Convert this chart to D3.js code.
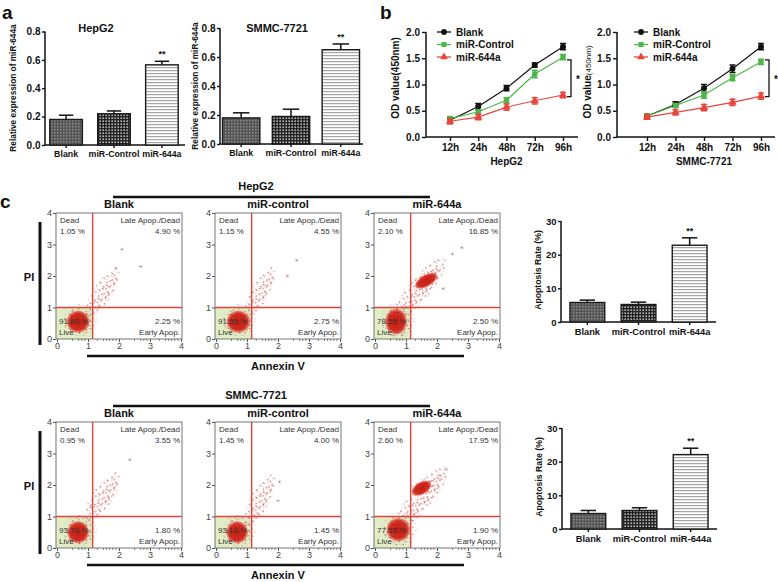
<!DOCTYPE html>
<html>
<head>
<meta charset="utf-8">
<script src="https://cdn.jsdelivr.net/npm/d3@7"></script>
<style>
  body { margin: 0; background: #fff; }
  text { font-family: "Liberation Sans", Arial, sans-serif; }
</style>
</head>
<body>
<svg id="fig" width="778" height="582"></svg>
<script>
// ---- data ----
const groups = ["Blank", "miR-Control", "miR-644a"];
const exprHepG2 = [0.18, 0.22, 0.565];
const exprHepG2Err = [0.03, 0.02, 0.025];
const exprSMMC = [0.18, 0.19, 0.65];
const exprSMMCErr = [0.035, 0.05, 0.04];
const exprTicks = [0, 0.2, 0.4, 0.6, 0.8];

const timePoints = ["12h", "24h", "48h", "72h", "96h"];
const odTicks = [0, 0.5, 1.0, 1.5, 2.0];
const odHepG2Blank = [0.32, 0.58, 0.93, 1.37, 1.72];
const odHepG2Control = [0.35, 0.48, 0.70, 1.20, 1.52];
const odHepG2Mir = [0.30, 0.38, 0.57, 0.69, 0.80];
const odHepG2BlankErr = [0.04, 0.06, 0.05, 0.04, 0.06];
const odHepG2ControlErr = [0.04, 0.04, 0.05, 0.07, 0.05];
const odHepG2MirErr = [0.05, 0.05, 0.06, 0.06, 0.05];
const odSMMCBlank = [0.40, 0.62, 0.93, 1.30, 1.72];
const odSMMCControl = [0.40, 0.60, 0.80, 1.13, 1.43];
const odSMMCMir = [0.38, 0.47, 0.56, 0.66, 0.78];
const odSMMCBlankErr = [0.04, 0.05, 0.07, 0.07, 0.06];
const odSMMCControlErr = [0.04, 0.04, 0.06, 0.06, 0.05];
const odSMMCMirErr = [0.04, 0.05, 0.06, 0.06, 0.06];
const sigBracket = [0.77, 1.47];

const flowTitles = ["Blank", "miR-control", "miR-644a"];
const flowTicks = [0, 1, 2, 3, 4];
const flowMinor = [0.5, 0.7, 0.8, 0.9, 1.3, 1.5, 1.6, 1.7, 1.8, 1.9, 2.5, 2.7, 2.8, 2.9, 3.3, 3.5, 3.6, 3.7, 3.8, 3.9];
const gateX = 1.15, gateY = 1.0;
const hepDead = ["1.05 %", "1.15 %", "2.10 %"];
const hepLate = ["4.90 %", "4.55 %", "16.85 %"];
const hepEarly = ["2.25 %", "2.75 %", "2.50 %"];
const hepLive = ["91.80 %", "91.55 %", "78.55 %"];
const smmcDead = ["0.95 %", "1.45 %", "2.60 %"];
const smmcLate = ["3.55 %", "4.00 %", "17.95 %"];
const smmcEarly = ["1.80 %", "1.45 %", "1.90 %"];
const smmcLive = ["93.70 %", "93.10 %", "77.55 %"];
// cell populations: [cx, cy, rx, ry, angle, kind]
const hepPops = [
  [[0.75, 0.6, 0.55, 0.5, 0, "haze"], [1.45, 1.45, 0.95, 0.3, 58, "sparse"], [0.68, 0.55, 0.32, 0.3, 0, "dense"]],
  [[0.75, 0.6, 0.55, 0.5, 0, "haze"], [1.4, 1.45, 0.95, 0.28, 62, "sparse"], [0.72, 0.55, 0.33, 0.3, 0, "dense"]],
  [[0.75, 0.6, 0.55, 0.55, 0, "haze"], [1.45, 1.6, 1.25, 0.35, 50, "sparse"], [0.68, 0.55, 0.3, 0.36, 0, "dense"], [1.65, 1.85, 0.35, 0.14, 30, "dense"]]
];
const smmcPops = [
  [[0.75, 0.55, 0.55, 0.5, 0, "haze"], [1.45, 1.6, 0.95, 0.32, 58, "sparse"], [0.68, 0.5, 0.3, 0.3, 0, "dense"]],
  [[0.75, 0.55, 0.55, 0.5, 0, "haze"], [1.4, 1.5, 0.95, 0.3, 63, "sparse"], [0.68, 0.5, 0.3, 0.3, 0, "dense"]],
  [[0.8, 0.6, 0.55, 0.55, 0, "haze"], [1.5, 1.6, 1.25, 0.35, 50, "sparse"], [0.75, 0.58, 0.33, 0.32, 0, "dense"], [1.5, 1.9, 0.3, 0.15, 30, "dense"]]
];
const hepOutliers = [[[2.1, 2.85], [2.7, 2.3], [1.9, 2.25]], [[2.6, 2.5], [2.3, 2.0]], [[2.8, 2.9], [2.5, 2.7], [2.2, 1.6]]];
const smmcOutliers = [[[2.35, 2.8], [1.1, 1.35]], [[2.05, 2.1], [2.0, 1.5]], [[2.3, 2.5], [2.1, 2.3]]];

const apoHepG2 = [5.8, 5.2, 22.8];
const apoHepG2Err = [0.7, 0.7, 2.2];
const apoSMMC = [4.6, 5.5, 22.1];
const apoSMMCErr = [0.9, 0.8, 1.9];
const apoTicks = [0, 10, 20, 30];

// ---- drawing ----
const svg = d3.select("#fig");
svg.append("rect").attr("width", 778).attr("height", 582).attr("fill", "#fff");
const defs = svg.append("defs");

function pattern(id, w, h) {
  return defs.append("pattern").attr("id", id).attr("width", w).attr("height", h)
    .attr("patternUnits", "userSpaceOnUse");
}
const pb = pattern("pat-blank", 3, 3);
pb.append("rect").attr("width", 3).attr("height", 3).attr("fill", "#555");
pb.append("rect").attr("width", 1.5).attr("height", 1.5).attr("fill", "#8c8c8c");
const pc = pattern("pat-control", 3, 3);
pc.append("rect").attr("width", 3).attr("height", 3).attr("fill", "#222");
pc.append("rect").attr("x", 0.5).attr("y", 0.5).attr("width", 1.3).attr("height", 1.3).attr("fill", "#fff");
const pm = pattern("pat-mir", 4, 3);
pm.append("rect").attr("width", 4).attr("height", 3).attr("fill", "#fff");
pm.append("rect").attr("y", 1).attr("width", 4).attr("height", 1.2).attr("fill", "#a5a5a5");
const barFills = ["url(#pat-blank)", "url(#pat-control)", "url(#pat-mir)"];

// speckle patterns for the flow dot plots (fixed positions, tiled)
const speckle = [[1, 2], [6, 1], [11, 3.5], [3.5, 6], [8.5, 8], [14, 9], [1.5, 11], [6.5, 13], [12, 13.5], [15, 5]];
const ps = pattern("dots-sparse", 16, 15);
speckle.forEach(d => ps.append("circle").attr("cx", d[0]).attr("cy", d[1]).attr("r", 0.65).attr("fill", "#c62a22"));
const pg2 = pattern("dots-gray", 16, 15);
speckle.forEach(d => pg2.append("rect").attr("x", 15 - d[0]).attr("y", d[1]).attr("width", 1.4).attr("height", 1.2).attr("fill", "#d4d4d4"));
const ph = pattern("dots-haze", 7, 7);
[[1, 1], [4, 4], [5.5, 0.5], [2, 5.5]].forEach(d => ph.append("rect").attr("x", d[0]).attr("y", d[1]).attr("width", 1.2).attr("height", 1.2).attr("fill", "#cfcfcf"));
[[3.5, 1.5], [6, 5.5]].forEach(d => ph.append("circle").attr("cx", d[0]).attr("cy", d[1]).attr("r", 0.6).attr("fill", "#c62a22"));
const pd = pattern("dots-dark", 4, 4);
[[1, 1], [3, 2.5], [1.8, 3.5]].forEach(d => pd.append("circle").attr("cx", d[0]).attr("cy", d[1]).attr("r", 0.55).attr("fill", "#8c120b"));
const rg = defs.append("radialGradient").attr("id", "blob");
rg.append("stop").attr("offset", "0%").attr("stop-color", "#cc1f14");
rg.append("stop").attr("offset", "75%").attr("stop-color", "#dc3226");
rg.append("stop").attr("offset", "100%").attr("stop-color", "#e8665c").attr("stop-opacity", 0.6);

function styleAxis(sel, size) {
  sel.select(".domain").remove();
  sel.selectAll("line").attr("stroke", "#111").attr("stroke-width", 1.4);
  sel.selectAll("text").attr("font-size", size).attr("font-weight", "bold").attr("fill", "#111");
}

function label(x, y, txt, size, opts = {}) {
  return svg.append("text").attr("x", x).attr("y", y).text(txt)
    .attr("font-size", size).attr("font-weight", opts.weight || "bold")
    .attr("text-anchor", opts.anchor || "middle").attr("fill", opts.fill || "#111")
    .attr("transform", opts.rotate ? `rotate(-90,${x},${y})` : null);
}

function barPanel(o) {
  const x = d3.scaleBand().domain(groups).range(o.xr).paddingInner(o.pi).paddingOuter(o.po);
  const y = d3.scaleLinear().domain([0, o.max]).range(o.yr);
  const g = svg.append("g");
  const ya = g.append("g").attr("transform", `translate(${o.xr[0]},0)`)
    .call(d3.axisLeft(y).tickValues(o.ticks).tickFormat(o.fmt).tickSize(3).tickPadding(1.5));
  styleAxis(ya, o.tickFont);
  const xa = g.append("g").attr("transform", `translate(0,${o.yr[0]})`)
    .call(d3.axisBottom(x).tickSize(3).tickPadding(3));
  styleAxis(xa, o.catFont);
  g.append("line").attr("x1", o.xr[0]).attr("x2", o.xEnd).attr("y1", o.yr[0]).attr("y2", o.yr[0])
    .attr("stroke", "#111").attr("stroke-width", 1.5);
  g.append("line").attr("x1", o.xr[0]).attr("x2", o.xr[0]).attr("y1", o.yr[0]).attr("y2", o.yr[1])
    .attr("stroke", "#111").attr("stroke-width", 1.5);
  const bw = x.bandwidth();
  groups.forEach((grp, i) => {
    const cx = x(grp) + bw / 2;
    g.append("line").attr("x1", cx).attr("x2", cx).attr("y1", y(o.vals[i])).attr("y2", y(o.vals[i] + o.errs[i]))
      .attr("stroke", "#111").attr("stroke-width", 1.5);
    g.append("line").attr("x1", cx - bw * 0.22).attr("x2", cx + bw * 0.22)
      .attr("y1", y(o.vals[i] + o.errs[i])).attr("y2", y(o.vals[i] + o.errs[i]))
      .attr("stroke", "#111").attr("stroke-width", 1.5);
    g.append("rect").attr("x", x(grp)).attr("y", y(o.vals[i])).attr("width", bw)
      .attr("height", y(0) - y(o.vals[i])).attr("fill", barFills[i])
      .attr("stroke", "#1a1a1a").attr("stroke-width", 1.4);
  });
  const last = groups[2];
  label(x(last) + bw / 2, y(o.vals[2] + o.errs[2]) - 4, "**", 9);
  if (o.title) label(o.title[0], o.title[1], o.title[2], 11);
  label(o.ylab[0], o.ylab[1], o.ylab[2], o.ylab[3], { rotate: true });
}

// panel a
label(2, 19, "a", 19, { anchor: "start" });
barPanel({ xr: [45, 183], xEnd: 185, yr: [145, 31.5], max: 0.8, pi: 0.32, po: 0.1,
  ticks: exprTicks, fmt: d3.format(".1f"), tickFont: 10, catFont: 8.8,
  vals: exprHepG2, errs: exprHepG2Err, title: [96, 32, "HepG2"],
  ylab: [16, 88, "Relative expression of miR-644a", 8.3] });
barPanel({ xr: [220, 362], xEnd: 363, yr: [144, 28], max: 0.8, pi: 0.25, po: 0.05,
  ticks: exprTicks, fmt: d3.format(".1f"), tickFont: 10, catFont: 8.8,
  vals: exprSMMC, errs: exprSMMCErr, title: [277, 32, "SMMC-7721"],
  ylab: [198, 86, "Relative expression of miR-644a", 8.3] });

// panel b
const seriesColors = ["#111", "#4cb748", "#e8453c"];
const seriesNames = ["Blank", "miR-Control", "miR-644a"];
const seriesShapes = [d3.symbolCircle, d3.symbolSquare, d3.symbolTriangle];

function linePanel(o) {
  const x = d3.scalePoint().domain(timePoints).range(o.xr);
  const y = d3.scaleLinear().domain([0, 2]).range(o.yr);
  const g = svg.append("g");
  const ya = g.append("g").attr("transform", `translate(${o.axisX},0)`)
    .call(d3.axisLeft(y).tickValues(odTicks).tickFormat(d3.format(".1f")).tickSize(4).tickPadding(2));
  styleAxis(ya, 10);
  const xa = g.append("g").attr("transform", `translate(0,${o.yr[0]})`)
    .call(d3.axisBottom(x).tickSize(4).tickPadding(3));
  styleAxis(xa, 10);
  g.append("line").attr("x1", o.axisX).attr("x2", o.xEnd).attr("y1", o.yr[0]).attr("y2", o.yr[0])
    .attr("stroke", "#111").attr("stroke-width", 1.5);
  g.append("line").attr("x1", o.axisX).attr("x2", o.axisX).attr("y1", o.yr[0]).attr("y2", o.yr[1])
    .attr("stroke", "#111").attr("stroke-width", 1.5);
  const line = d3.line().x((d, i) => x(timePoints[i])).y(d => y(d));
  o.series.forEach((s, k) => {
    g.append("path").attr("d", line(s)).attr("fill", "none").attr("stroke", seriesColors[k]).attr("stroke-width", 1.2);
  });
  o.series.forEach((s, k) => {
    s.forEach((v, i) => {
      const cx = x(timePoints[i]), e = o.errs[k][i];
      g.append("path").attr("d", `M${cx},${y(v - e)}V${y(v + e)}M${cx - 3},${y(v - e)}H${cx + 3}M${cx - 3},${y(v + e)}H${cx + 3}`)
        .attr("stroke", seriesColors[k]).attr("stroke-width", 1.5).attr("fill", "none");
      g.append("path").attr("d", d3.symbol().type(seriesShapes[k]).size(k === 2 ? 30 : 28)())
        .attr("transform", `translate(${cx},${y(v)})`).attr("fill", seriesColors[k]);
    });
  });
  // significance bracket
  const bx = o.bracketX;
  g.append("path").attr("d", `M${bx - 4},${y(sigBracket[1])}H${bx}V${y(sigBracket[0])}H${bx - 4}`)
    .attr("fill", "none").attr("stroke", "#111").attr("stroke-width", 1.3);
  label(bx + 7, (y(sigBracket[0]) + y(sigBracket[1])) / 2 + 5, "*", 10);
  // legend
  seriesNames.forEach((n, k) => {
    const ly = o.legY + k * 12.5;
    g.append("line").attr("x1", o.legX).attr("x2", o.legX + 14).attr("y1", ly).attr("y2", ly)
      .attr("stroke", seriesColors[k]).attr("stroke-width", 1.3);
    g.append("path").attr("d", d3.symbol().type(seriesShapes[k]).size(26)())
      .attr("transform", `translate(${o.legX + 7},${ly})`).attr("fill", seriesColors[k]);
    label(o.legX + 19, ly + 3.5, n, 10, { anchor: "start" });
  });
  label((o.xr[0] + o.xr[1]) / 2, o.yr[0] + 28, o.title, 10);
  const yl = svg.append("text").attr("x", o.ylabX).attr("y", o.ylabY).attr("text-anchor", "middle")
    .attr("font-size", 10).attr("font-weight", "bold").attr("fill", "#111")
    .attr("transform", `rotate(-90,${o.ylabX},${o.ylabY})`);
  yl.append("tspan").text("OD value");
  yl.append("tspan").text("(450nm)").attr("font-size", o.unitFont).attr("font-weight", o.unitWeight);
}

label(380, 19, "b", 19, { anchor: "start" });
linePanel({ xr: [450, 563], axisX: 426, xEnd: 578, yr: [137, 32], title: "HepG2",
  series: [odHepG2Blank, odHepG2Control, odHepG2Mir],
  errs: [odHepG2BlankErr, odHepG2ControlErr, odHepG2MirErr],
  bracketX: 571, legX: 437, legY: 32, ylabX: 399, ylabY: 78, unitFont: 10, unitWeight: "bold" });
linePanel({ xr: [647, 761], axisX: 617, xEnd: 775, yr: [137, 32], title: "SMMC-7721",
  series: [odSMMCBlank, odSMMCControl, odSMMCMir],
  errs: [odSMMCBlankErr, odSMMCControlErr, odSMMCMirErr],
  bracketX: 769, legX: 634, legY: 32, ylabX: 591, ylabY: 82, unitFont: 8, unitWeight: "normal" });

// panel c: flow cytometry plots
label(0, 208, "c", 19, { anchor: "start" });
const plotLefts = [56, 215, 374];
const plotSize = 126;

function flowPlot(left, top, title, dead, late, early, live, pops, outliers) {
  const x = d3.scaleLinear().domain([0, 4]).range([left + 1, left + plotSize - 1]);
  const y = d3.scaleLinear().domain([0, 4]).range([top + plotSize, top]);
  const g = svg.append("g");
  const clipId = "clip" + left + "_" + top;
  defs.append("clipPath").attr("id", clipId).append("rect")
    .attr("x", left).attr("y", top).attr("width", plotSize).attr("height", plotSize);
  g.append("rect").attr("x", left).attr("y", top).attr("width", plotSize).attr("height", plotSize).attr("fill", "#fff");
  g.append("rect").attr("x", left).attr("y", y(gateY)).attr("width", x(gateX) - left)
    .attr("height", top + plotSize - y(gateY)).attr("fill", "#e1edc4");
  const pg = g.append("g").attr("clip-path", `url(#${clipId})`);
  const kx = x(1) - x(0), ky = y(0) - y(1);
  pops.forEach(p => {
    const tr = `translate(${x(p[0])},${y(p[1])}) rotate(${-p[4]})`;
    const rx = p[2] * kx, ry = p[3] * ky;
    if (p[5] === "dense") {
      pg.append("ellipse").attr("rx", rx + 4).attr("ry", ry + 4).attr("transform", tr)
        .attr("fill", "url(#dots-sparse)");
      pg.append("ellipse").attr("rx", rx + 1.5).attr("ry", ry + 1.5).attr("transform", tr)
        .attr("fill", "url(#blob)");
      pg.append("ellipse").attr("rx", rx).attr("ry", ry).attr("transform", tr)
        .attr("fill", "url(#dots-dark)");
    } else if (p[5] === "sparse") {
      pg.append("ellipse").attr("rx", rx).attr("ry", ry).attr("transform", tr)
        .attr("fill", "url(#dots-gray)");
      pg.append("ellipse").attr("rx", rx).attr("ry", ry).attr("transform", tr)
        .attr("fill", "url(#dots-sparse)");
      pg.append("ellipse").attr("rx", rx * 0.7).attr("ry", ry * 0.6).attr("transform", tr + " translate(3,2)")
        .attr("fill", "url(#dots-sparse)");
    } else {
      pg.append("ellipse").attr("rx", rx).attr("ry", ry).attr("transform", tr)
        .attr("fill", "url(#dots-haze)");
    }
  });
  outliers.forEach(d => {
    pg.append("rect").attr("x", x(d[0]) - 2).attr("y", y(d[1]) - 1.5).attr("width", 4).attr("height", 3).attr("fill", "#e2e2e2");
    pg.append("circle").attr("cx", x(d[0])).attr("cy", y(d[1])).attr("r", 0.6).attr("fill", "#c62a22");
  });
  // gates
  g.append("line").attr("x1", x(gateX)).attr("x2", x(gateX)).attr("y1", top).attr("y2", top + plotSize)
    .attr("stroke", "#e0433b").attr("stroke-width", 1.4);
  g.append("line").attr("x1", left).attr("x2", left + plotSize).attr("y1", y(gateY)).attr("y2", y(gateY))
    .attr("stroke", "#e0433b").attr("stroke-width", 1.4);
  g.append("rect").attr("x", left).attr("y", top).attr("width", plotSize).attr("height", plotSize)
    .attr("fill", "none").attr("stroke", "#777").attr("stroke-width", 1);
  // axes
  const ya = g.append("g").attr("transform", `translate(${left},0)`)
    .call(d3.axisLeft(y).tickValues(flowTicks).tickFormat(d3.format("d")).tickSize(3).tickPadding(1));
  const xa = g.append("g").attr("transform", `translate(0,${top + plotSize})`)
    .call(d3.axisBottom(x).tickValues(flowTicks).tickFormat(d3.format("d")).tickSize(3).tickPadding(1));
  [ya, xa].forEach(a => {
    a.select(".domain").remove();
    a.selectAll("line").attr("stroke", "#555");
    a.selectAll("text").attr("font-size", 9).attr("fill", "#444");
  });
  g.selectAll(null).data(flowMinor).join("line")
    .attr("x1", d => x(d)).attr("x2", d => x(d)).attr("y1", top + plotSize).attr("y2", top + plotSize + 2)
    .attr("stroke", "#666").attr("stroke-width", 0.8);
  // quadrant labels
  const f = 8, fill = "#333";
  label(left + 4, top + 10, "Dead", f, { anchor: "start", weight: "normal", fill });
  label(left + 4, top + 21, dead, f, { anchor: "start", weight: "normal", fill });
  label(left + plotSize - 2, top + 10, "Late Apop./Dead", f, { anchor: "end", weight: "normal", fill });
  label(left + plotSize - 2, top + 21, late, f, { anchor: "end", weight: "normal", fill });
  label(left + plotSize - 2, top + plotSize - 15, early, f, { anchor: "end", weight: "normal", fill });
  label(left + plotSize - 2, top + plotSize - 4, "Early Apop.", f, { anchor: "end", weight: "normal", fill });
  label(left + 3, top + plotSize - 15, live, f, { anchor: "start", weight: "normal", fill });
  label(left + 3, top + plotSize - 4, "Live", f, { anchor: "start", weight: "normal", fill });
  label(left + plotSize / 2, top - 5, title, 11);
}

function flowRow(top, header, dead, late, early, live, pops, outliers) {
  label(256, top - 23, header, 11);
  svg.append("line").attr("x1", 113).attr("x2", 430).attr("y1", top - 16).attr("y2", top - 16)
    .attr("stroke", "#111").attr("stroke-width", 2.5);
  flowTitles.forEach((t, i) => flowPlot(plotLefts[i], top, t, dead[i], late[i], early[i], live[i], pops[i], outliers[i]));
  svg.append("line").attr("x1", 40).attr("x2", 40).attr("y1", top + 9).attr("y2", top + plotSize + 6)
    .attr("stroke", "#111").attr("stroke-width", 3);
  label(29, top + 68, "PI", 11);
  svg.append("line").attr("x1", 87).attr("x2", 464).attr("y1", top + plotSize + 17).attr("y2", top + plotSize + 17)
    .attr("stroke", "#111").attr("stroke-width", 2.5);
  label(278, top + plotSize + 31, "Annexin V", 11);
}

flowRow(213, "HepG2", hepDead, hepLate, hepEarly, hepLive, hepPops, hepOutliers);
flowRow(422, "SMMC-7721", smmcDead, smmcLate, smmcEarly, smmcLive, smmcPops, smmcOutliers);

// apoptosis bars
barPanel({ xr: [561, 716], xEnd: 716, yr: [322, 221], max: 30, pi: 0.32, po: 0.175,
  ticks: apoTicks, fmt: d3.format("d"), tickFont: 9.5, catFont: 9.3,
  vals: apoHepG2, errs: apoHepG2Err, title: null,
  ylab: [541, 270, "Apoptosis Rate (%)", 8.7] });
barPanel({ xr: [562, 717], xEnd: 717, yr: [529, 428], max: 30, pi: 0.32, po: 0.175,
  ticks: apoTicks, fmt: d3.format("d"), tickFont: 9.5, catFont: 9.3,
  vals: apoSMMC, errs: apoSMMCErr, title: null,
  ylab: [542, 477, "Apoptosis Rate (%)", 8.7] });
</script>
</body>
</html>
